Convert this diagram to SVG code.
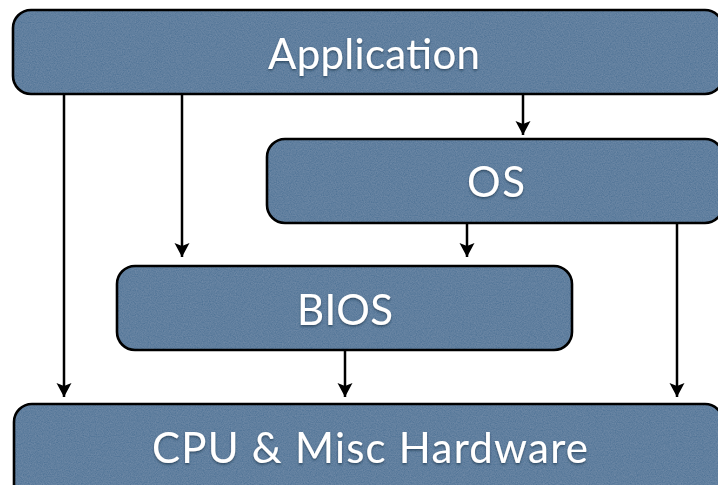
<svg xmlns="http://www.w3.org/2000/svg" width="718" height="485" viewBox="0 0 718 485">
  <defs>
    <!-- fine paper grain over the box fill -->
    <filter id="grain" x="0" y="0" width="100%" height="100%">
      <feTurbulence type="fractalNoise" baseFrequency="0.85" numOctaves="2" seed="7" result="noise"/>
      <feColorMatrix in="noise" type="matrix" values="1.4 0 0 0 -0.2  1.4 0 0 0 -0.2  1.4 0 0 0 -0.2  0 0 0 0 0.08" result="speck"/>
      <feComposite in="speck" in2="SourceGraphic" operator="in" result="speckIn"/>
      <feMerge>
        <feMergeNode in="SourceGraphic"/>
        <feMergeNode in="speckIn"/>
      </feMerge>
    </filter>
    <filter id="textShadow" x="-10%" y="-20%" width="120%" height="150%">
      <feDropShadow dx="0" dy="1.5" stdDeviation="1" flood-color="#1d3148" flood-opacity="0.7"/>
    </filter>
    <marker id="arrow" markerUnits="userSpaceOnUse" markerWidth="18" markerHeight="18"
            viewBox="-15 -9 18 18" refX="0" refY="0" orient="auto">
      <path d="M-14,-7.5 L0,0 L-14,7.5 L-11,0 Z" fill="#000"/>
    </marker>
  </defs>
  <style>
    .fill { fill: #52789c; stroke: none; filter: url(#grain); }
    .edge { fill: none; stroke: #000; stroke-width: 2.6; }
    .label { font-family: Lato, "Open Sans", "DejaVu Sans", sans-serif; font-size: 42px; fill: #ffffff; text-anchor: middle; filter: url(#textShadow); }
    .conn { stroke: #000; stroke-width: 2.5; fill: none; marker-end: url(#arrow); }
  </style>

  <rect width="718" height="485" fill="#ffffff"/>

  <g id="connectors">
    <line class="conn" x1="64" y1="95" x2="64" y2="397"/>
    <line class="conn" x1="182" y1="95" x2="182" y2="257"/>
    <line class="conn" x1="523" y1="95" x2="523" y2="135"/>
    <line class="conn" x1="467" y1="224" x2="467" y2="257"/>
    <line class="conn" x1="677" y1="224" x2="677" y2="397"/>
    <line class="conn" x1="345" y1="351" x2="345" y2="397"/>
  </g>

  <g id="node-application">
    <rect class="fill" x="13" y="10" width="710" height="84" rx="18" ry="18"/>
    <rect class="edge" x="13" y="10" width="710" height="84" rx="18" ry="18"/>
    <text class="label" x="374" y="69" textLength="212">Application</text>
  </g>

  <g id="node-os">
    <rect class="fill" x="267" y="139" width="456" height="84" rx="18" ry="18"/>
    <rect class="edge" x="267" y="139" width="456" height="84" rx="18" ry="18"/>
    <text class="label" x="496" y="197" textLength="58">OS</text>
  </g>

  <g id="node-bios">
    <rect class="fill" x="117" y="266" width="455" height="84" rx="18" ry="18"/>
    <rect class="edge" x="117" y="266" width="455" height="84" rx="18" ry="18"/>
    <text class="label" x="345" y="325" textLength="96">BIOS</text>
  </g>

  <g id="node-cpu">
    <rect class="fill" x="14" y="404" width="709" height="100" rx="18" ry="18"/>
    <rect class="edge" x="14" y="404" width="709" height="100" rx="18" ry="18"/>
    <text class="label" x="370" y="463" textLength="436">CPU &amp; Misc Hardware</text>
  </g>
</svg>
